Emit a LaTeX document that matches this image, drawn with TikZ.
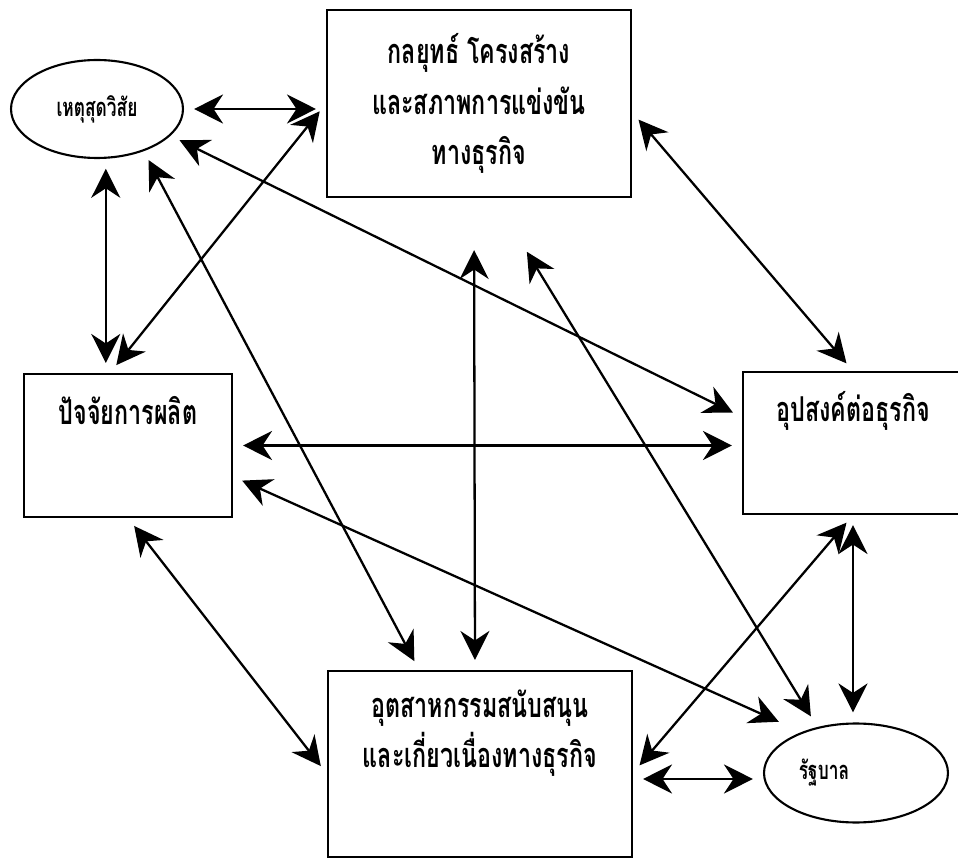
\documentclass[tikz,border=0pt]{standalone}
\usepackage{fontspec}
\newfontfamily\thaifont[Script=Thai,FakeStretch=0.68]{Loma}
\usetikzlibrary{positioning,arrows.meta,shapes.geometric}

\begin{document}
\begin{tikzpicture}[x=0.02cm,y=-0.02cm,
      >={Stealth[length=0.58cm,width=0.58cm,inset=0.19cm]},
      box/.style={draw,line width=1.2pt,inner sep=0pt},
      oval/.style={draw,ellipse,line width=1.2pt,inner sep=0pt},
      lbl/.style={font=\thaifont\bfseries\fontsize{19.5}{28.5}\selectfont,align=center},
      smalllbl/.style={font=\thaifont\bfseries\fontsize{14.5}{17}\selectfont},
      link/.style={<->,line width=1.3pt,shorten <=0.2cm,shorten >=0.2cm}]
    \useasboundingbox (0,0) rectangle (958,858);
    % the six parts
    \node[box,lbl,minimum width=6.08cm,minimum height=3.74cm] (strat) at (479,103.5) {กลยุทธ์ โครงสร้าง\\และสภาพการแข่งขัน\\ทางธุรกิจ};
    \node[oval,smalllbl,minimum width=3.44cm,minimum height=1.96cm] (shock) at (97,109) {เหตุสุดวิสัย};
    \node[box,minimum width=4.16cm,minimum height=2.86cm] (factor) at (128,445.5) {};
    \node[lbl] (factorText) at ([yshift=-0.76cm]factor.north) {ปัจจัยการผลิต};
    \node[box,minimum width=4.4cm,minimum height=2.84cm] (demand) at (853,443) {};
    \node[lbl] (demandText) at ([yshift=-0.8cm]demand.north) {อุปสงค์ต่อธุรกิจ};
    \node[box,minimum width=6.08cm,minimum height=3.72cm] (support) at (480,764) {};
    \node[lbl] (supportText) at ([yshift=-1.26cm]support.north) {อุตสาหกรรมสนับสนุน\\และเกี่ยวเนื่องทางธุรกิจ};
    \node[oval,minimum width=3.68cm,minimum height=1.98cm] (gov) at (856,773) {};
    \node[smalllbl] (govText) at ([xshift=-0.64cm]gov.center) {รัฐบาล};
    % links between them
    \draw[link] (shock.east) -- (shock.east -| strat.west);
    \draw[link] (shock.-80) -- (shock.-80 |- factor.north);
    \draw[link] ([xshift=-0.36cm]factor.north) -- (strat.west);
    \draw[link] (shock.-42) -- ([xshift=-1.22cm]support.north);
    \draw[link] (shock.-20) -- ([yshift=0.52cm]demand.west);
    \draw[link] (factor.east) -- (factor.east -| demand.west);
    \draw[link,shorten >=0.5cm] ([yshift=-0.62cm]factor.east) -- (gov.143);
    \draw[link] (factor.south) -- ([yshift=-0.2cm]support.west);
    \draw[link,shorten <=1.04cm] ([xshift=-0.1cm]strat.south) -- ([xshift=-0.1cm]support.north);
    \draw[link,shorten <=1.26cm,shorten >=0.25cm] ([xshift=0.3cm]strat.south) -- (gov.130);
    \draw[link] ([yshift=-0.17cm]strat.east) -- (demand.north);
    \draw[link] (demand.south) -- ([yshift=-0.18cm]support.east);
    \draw[link] (demand.south) -- (demand.south |- gov.north);
    \draw[link] ([yshift=-0.3cm]support.east) -- ([yshift=-0.3cm]support.east -| gov.west);
\end{tikzpicture}
\end{document}
